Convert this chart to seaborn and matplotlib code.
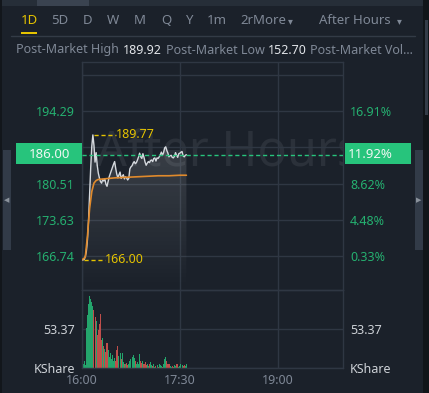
import numpy as np
import pandas as pd
import matplotlib
matplotlib.use('Agg')
import matplotlib.pyplot as plt
from matplotlib.patches import Rectangle
from matplotlib.lines import Line2D
from matplotlib.colors import LinearSegmentedColormap
import seaborn as sns

# ---- data (minutes after 16:00) ----
price = [166.0, 166.0, 166.1, 166.6, 167.6, 169.8, 173.5, 178.5, 183.5, 187.6,
         189.77, 187.8, 184.6, 186.4, 184.0, 182.5, 181.6, 180.9, 180.6, 181.3,
         181.0, 181.4, 180.4, 180.0, 180.9, 181.8, 182.4, 183.0, 183.6, 184.2,
         184.7, 183.4, 182.3, 181.6, 182.2, 182.7, 181.5, 181.9, 182.2, 181.4,
         181.8, 181.6, 181.2, 181.5, 183.3, 183.7, 183.9, 184.4, 184.7, 184.3,
         184.5, 185.0, 185.6, 186.3, 185.6, 185.3, 186.2, 185.5, 184.6, 184.0,
         184.4, 184.7, 184.5, 184.9, 185.0, 184.7, 185.3, 185.4, 184.8, 185.4,
         185.3, 185.6, 186.0, 186.5, 185.9, 186.4, 187.3, 187.5, 186.8, 186.3,
         185.6, 185.8, 185.9, 185.5, 185.4, 185.7, 186.4, 185.9, 185.5, 186.2,
         186.3, 186.5, 186.6, 185.8, 185.6, 185.9, 186.0]
minutes = list(range(len(price)))

avg_minutes = [0, 3, 5, 7, 9, 11, 13, 15, 20, 30, 40, 50, 60, 70, 80, 90, 96]
avg_price = [166.0, 166.5, 170.5, 175.8, 179.0, 180.6, 181.1, 181.3, 181.4, 181.6,
             181.7, 181.8, 181.9, 182.0, 182.0, 182.1, 182.1]

volume = [28, 6, 10, 4, 55, 72, 88, 98, 94, 90, 85, 80, 70, 64, 45, 52, 60, 74, 38, 41,
          30, 26, 22, 34, 25, 15, 20, 13, 18, 10, 14, 9, 24, 30, 16, 20, 12, 21, 8, 6,
          5, 7, 4, 6, 9, 12, 15, 18, 14, 10, 6, 8, 5, 19, 9, 7, 10, 6, 8, 4,
          5, 3, 6, 8, 4, 3, 5, 2, 3, 4, 2, 5, 4, 3, 2, 6, 12, 15, 10, 5,
          6, 3, 2, 3, 2, 4, 3, 5, 6, 2, 3, 5, 4, 3, 4, 3, 5]

prev_close = 166.19
last_price = 186.00
last_pct = '11.92%'
high_mark = 189.77
low_mark = 166.00
price_ticks = [166.74, 173.63, 180.51, 187.40, 194.29, 201.17]
price_labels = ['166.74', '173.63', '180.51', '187.40', '194.29', '']
pct_labels = ['0.33%', '4.48%', '8.62%', '12.77%', '16.91%', '']
vol_ticks = [0, 53.37, 106.74]
vol_labels = ['KShare', '53.37', '']
time_ticks = [0, 90, 180]
time_labels = ['16:00', '17:30', '19:00']
tabs = ['1D', '5D', 'D', 'W', 'M', 'Q', 'Y', '1m', '2rMore']
tab_x = [29, 60, 87, 113, 140, 166, 189, 217, 263]

# ---- style ----
W, H = 429, 393
BG = '#1b212a'
GRID = '#2f3743'
GREEN = '#27c47c'
LBL_GREEN = '#25b070'
YELLOW = '#e5c300'
GRAY = '#7f8896'

sns.set_theme(style='dark')
plt.rcParams['font.family'] = ['Noto Sans', 'DejaVu Sans']


def rect(x0, y0, x1, y1):
    return [x0 / W, 1 - y1 / H, (x1 - x0) / W, (y1 - y0) / H]


def fx(x):
    return x / W


def fy(y):
    return 1 - y / H


fig = plt.figure(figsize=(W / 100, H / 100), dpi=100, facecolor=BG)

# frame pieces around the chart
fig.add_artist(Rectangle((0, fy(6)), fx(423), 6 / H, transform=fig.transFigure, color='#262e38', lw=0))
fig.add_artist(Rectangle((fx(37), fy(6)), fx(52), 6 / H, transform=fig.transFigure, color='#3a4350', lw=0))
fig.add_artist(Rectangle((fx(423), 0), fx(6), 1, transform=fig.transFigure, color='#111519', lw=0))
fig.add_artist(Rectangle((fx(425), fy(115)), fx(3), 95 / H, transform=fig.transFigure, color='#343c48', lw=0))
fig.add_artist(Rectangle((0, 0), fx(2), 1, transform=fig.transFigure, color='#12161b', lw=0))
fig.add_artist(Rectangle((fx(3), fy(250)), fx(8), 100 / H, transform=fig.transFigure, color='#323b48', lw=0))
fig.add_artist(Rectangle((fx(415), fy(250)), fx(8), 100 / H, transform=fig.transFigure, color='#323b48', lw=0))
fig.text(fx(7), fy(200), '◀', color='#8a929c', fontsize=5, ha='center', va='center', family=['DejaVu Sans'])
fig.text(fx(419), fy(200), '▶', color='#8a929c', fontsize=5, ha='center', va='center', family=['DejaVu Sans'])

# header tabs
for t, x in zip(tabs, tab_x):
    fig.text(fx(x), fy(21), t, color=YELLOW if t == '1D' else GRAY, fontsize=9.5, ha='center', va='center')
fig.text(fx(290), fy(21), '▾', color=GRAY, fontsize=7, ha='center', va='center', family=['DejaVu Sans'])
fig.text(fx(355), fy(21), 'After Hours', color=GRAY, fontsize=9.5, ha='center', va='center')
fig.text(fx(399), fy(21), '▾', color=GRAY, fontsize=7, ha='center', va='center', family=['DejaVu Sans'])
fig.add_artist(Rectangle((fx(21), fy(34)), fx(16), 2 / H, transform=fig.transFigure, color=YELLOW, lw=0))
fig.add_artist(Line2D([fx(11), fx(415)], [fy(35.5), fy(35.5)], transform=fig.transFigure, color='#333b46', lw=1))

stats = [('Post-Market High', 16, GRAY), ('189.92', 123, '#e2e5e9'), ('Post-Market Low', 166, GRAY),
         ('152.70', 268, '#e2e5e9'), ('Post-Market Vol...', 310, GRAY)]
for s, x, c in stats:
    fig.text(fx(x), fy(50), s, color=c, fontsize=9, ha='left', va='center')

# ---- price panel ----
ax = fig.add_axes(rect(82, 62, 343, 290))
ax.set_facecolor(BG)
df = pd.DataFrame({'minute': minutes, 'price': price})
df_avg = pd.DataFrame({'minute': avg_minutes, 'avg': avg_price})

ymin, ymax = 160.27, 203.64
poly = ax.fill_between(minutes, price, ymin, color='none', lw=0)
clip = poly.get_paths()[0]
cmap = LinearSegmentedColormap.from_list('fade', [(1, 1, 1, 0.0), (1, 1, 1, 0.15)])
grad = np.linspace(0, 1, 256).reshape(-1, 1)
img = ax.imshow(grad, extent=[0, minutes[-1], ymin, 190], origin='lower', aspect='auto', cmap=cmap, zorder=1)
img.set_clip_path(clip, transform=ax.transData)

# faint watermark
ax.text((96 - 82) / 261, (290 - 152) / 228, 'After Hours', transform=ax.transAxes, fontsize=35,
        color='#2b313a', ha='left', va='center', zorder=0.5, clip_on=True)

sns.lineplot(data=df, x='minute', y='price', ax=ax, color='#d5d9de', lw=1, zorder=3)
sns.lineplot(data=df_avg, x='minute', y='avg', ax=ax, color='#e08a2c', lw=1.2, zorder=3)

ax.axhline(last_price, color=GREEN, lw=1, ls=(0, (3, 2)), zorder=4)
ax.plot([10.6, 31], [high_mark, high_mark], color=YELLOW, lw=1, ls=(0, (3, 2)), zorder=4)
ax.text(31.5, high_mark, f'{high_mark:.2f}', color=YELLOW, fontsize=9, ha='left', va='center', zorder=4)
ax.plot([1.5, 21], [low_mark, low_mark], color=YELLOW, lw=1, ls=(0, (3, 2)), zorder=4)
ax.text(21.5, low_mark, f'{low_mark:.2f}', color=YELLOW, fontsize=9, ha='left', va='center', zorder=4)

ax.set_xlim(0, 240)
ax.set_ylim(ymin, ymax)
ax.set_yticks(price_ticks)
ax.set_yticklabels(price_labels)
ax.set_xticks(time_ticks)
ax.tick_params(axis='x', labelbottom=False, length=0)
ax.tick_params(axis='y', colors=LBL_GREEN, labelsize=9, length=0, pad=5)
ax.grid(True, color=GRID, lw=1)
ax.set_xlabel('')
ax.set_ylabel('')
for sp in ax.spines.values():
    sp.set_color(GRID)
    sp.set_linewidth(1)

ax2 = ax.twinx()
ax2.set_ylim(ymin, ymax)
ax2.set_yticks(price_ticks)
ax2.set_yticklabels(pct_labels)
ax2.tick_params(axis='y', colors=LBL_GREEN, labelsize=9, length=0, pad=5)
ax2.grid(False)
for sp in ax2.spines.values():
    sp.set_visible(False)

# ---- volume panel ----
axv = fig.add_axes(rect(82, 290, 343, 368))
axv.set_facecolor(BG)
bar_colors = ['#24a56c']
for i in range(1, len(price)):
    bar_colors.append('#24a56c' if price[i] >= price[i - 1] else '#bf4e4b')
axv.bar(minutes, volume, width=0.95, color=bar_colors, lw=0, zorder=2)
axv.set_xlim(0, 240)
axv.set_ylim(0, 106.74)
axv.set_yticks(vol_ticks)
axv.set_yticklabels(vol_labels)
axv.set_xticks(time_ticks)
axv.set_xticklabels(time_labels)
axv.tick_params(axis='x', colors=GRAY, labelsize=9, length=0, pad=4)
axv.tick_params(axis='y', colors='#cdd1d6', labelsize=9, length=0, pad=5)
axv.grid(True, color=GRID, lw=1)
for sp in axv.spines.values():
    sp.set_color(GRID)
    sp.set_linewidth(1)
axv2 = axv.twinx()
axv2.set_ylim(0, 106.74)
axv2.set_yticks(vol_ticks)
axv2.set_yticklabels(vol_labels)
axv2.tick_params(axis='y', colors='#cdd1d6', labelsize=9, length=0, pad=5)
axv2.grid(False)
for sp in axv2.spines.values():
    sp.set_visible(False)

# current price boxes
fig.add_artist(Rectangle((fx(16), fy(164)), fx(66), 21 / H, transform=fig.transFigure, color=GREEN, lw=0, zorder=5))
fig.add_artist(Rectangle((fx(345), fy(164)), fx(66), 21 / H, transform=fig.transFigure, color=GREEN, lw=0, zorder=5))
fig.text(fx(49), fy(154), f'{last_price:.2f}', color='#eef7f2', fontsize=9.5, ha='center', va='center', zorder=6)
fig.text(fx(348), fy(154), last_pct, color='#eef7f2', fontsize=9.5, ha='left', va='center', zorder=6)

fig.savefig('out.png', dpi=100, facecolor=BG)
